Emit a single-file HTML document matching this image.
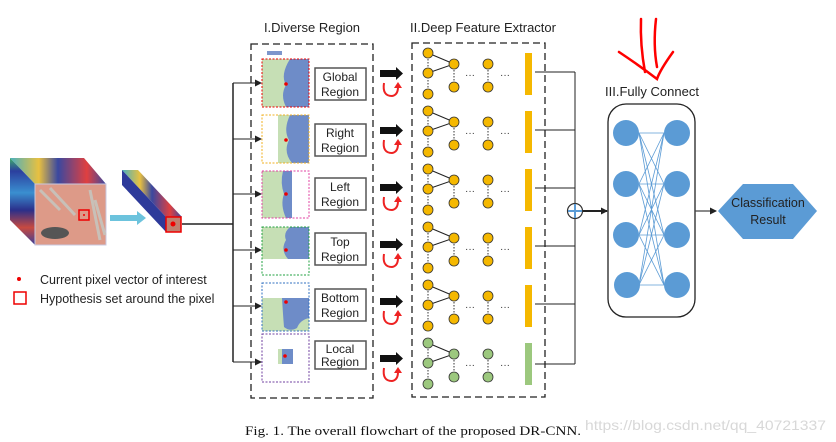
<!DOCTYPE html>
<html><head><meta charset="utf-8"><style>
body{margin:0;background:#fff;}
svg{display:block;}
text{font-family:"Liberation Sans",sans-serif;}
text.cap{font-family:"Liberation Serif",serif;}
</style></head><body>
<svg width="836" height="442" viewBox="0 0 836 442" xmlns="http://www.w3.org/2000/svg">
<defs>
<linearGradient id="side" x1="0" y1="0" x2="0" y2="1">
<stop offset="0" stop-color="#3fae6a"/><stop offset="0.15" stop-color="#2b3f9e"/><stop offset="0.4" stop-color="#3a8fd0"/><stop offset="0.6" stop-color="#2b2f8a"/><stop offset="0.8" stop-color="#c84a40"/><stop offset="1" stop-color="#3a3f9a"/>
</linearGradient>
<linearGradient id="top" x1="0" y1="0" x2="1" y2="0">
<stop offset="0" stop-color="#4ab0c0"/><stop offset="0.3" stop-color="#e8c040"/><stop offset="0.5" stop-color="#3a48a0"/><stop offset="0.8" stop-color="#e04040"/><stop offset="1" stop-color="#3a48a0"/>
</linearGradient>
<marker id="ah" markerUnits="userSpaceOnUse" markerWidth="7" markerHeight="7" refX="6" refY="3.5" orient="auto"><path d="M0,0 L7,3.5 L0,7 z" fill="#222"/></marker>
</defs>

<text x="312" y="32" font-size="13" text-anchor="middle" fill="#222">I.Diverse Region</text>
<text x="483" y="32" font-size="13" text-anchor="middle" fill="#222">II.Deep Feature Extractor</text>
<text x="652" y="96" font-size="13" text-anchor="middle" fill="#222">III.Fully Connect</text>

<g stroke="#f00" stroke-width="2.5" fill="none" stroke-linecap="round">
<path d="M641,19 Q640,45 645,72"/>
<path d="M656,19 Q653,45 657,67"/>
<path d="M619,52 Q640,66 657,79 Q660,70 673,52"/>
</g>

<polygon points="10,158 84,158 106,184 35,184" fill="url(#top)"/>
<polygon points="10,158 35,184 35,245 10,220" fill="url(#side)"/>
<rect x="35" y="184" width="71" height="61" fill="#dd9a88" stroke="#c8c8e0"/>
<path d="M40,190 L60,210 M50,188 L75,215 M90,190 L100,240 M95,200 L105,235" stroke="#c8c0b8" stroke-width="3"/>
<ellipse cx="55" cy="233" rx="14" ry="6" fill="#555"/>
<rect x="79" y="210" width="10" height="10" fill="none" stroke="#e00" stroke-width="1.5"/>
<circle cx="84" cy="215" r="1" fill="#e00"/>

<polygon points="110,215 137,215 137,211 146,218 137,225 137,221 110,221" fill="#6cc3dd"/>

<polygon points="122,170 138,170 182,217 166,217" fill="url(#top)"/>
<polygon points="122,170 166,217 166,232 122,185" fill="#2d3a9a"/>
<rect x="166" y="217" width="15" height="15" fill="#c08070" stroke="#e00" stroke-width="1.5"/>
<circle cx="173" cy="224" r="2.5" fill="#e00"/>

<circle cx="19" cy="279" r="2" fill="#e00"/>
<text x="40" y="284" font-size="12.5" fill="#222">Current pixel vector of interest</text>
<rect x="14" y="292" width="12" height="12" fill="none" stroke="#e00" stroke-width="1.5"/>
<text x="40" y="303" font-size="12.5" fill="#222">Hypothesis set around the pixel</text>

<path d="M182,224 H233 M233,83 V362" stroke="#222" stroke-width="1.5" fill="none"/>
<g stroke="#222" stroke-width="1" marker-end="url(#ah)">
<line x1="233" y1="83" x2="261" y2="83"/>
<line x1="233" y1="139" x2="261" y2="139"/>
<line x1="233" y1="194" x2="261" y2="194"/>
<line x1="233" y1="250" x2="261" y2="250"/>
<line x1="233" y1="306" x2="261" y2="306"/>
<line x1="233" y1="362" x2="261" y2="362"/>
</g>

<rect x="251" y="44" width="122" height="354" fill="none" stroke="#222" stroke-width="1.3" stroke-dasharray="7,4"/>
<rect x="412" y="43" width="133" height="354" fill="none" stroke="#222" stroke-width="1.3" stroke-dasharray="7,4"/>

<rect x="267" y="51" width="15" height="4" fill="#7d96cc"/>
<g>
<rect x="262" y="59" width="47" height="48" fill="#c6dfb5"/>
<path d="M290,59 H309 V107 H286 Q280,95 286,85 Q280,75 290,59 z" fill="#6e8cc8"/>
<rect x="262" y="59" width="47" height="48" fill="none" stroke="#e00" stroke-dasharray="2,1.5"/>
<circle cx="286" cy="84" r="1.8" fill="#e00"/>
</g>
<g>
<rect x="278" y="115" width="31" height="48" fill="#c6dfb5"/>
<path d="M290,115 H309 V163 H292 Q283,152 289,140 Q283,130 290,115 z" fill="#6e8cc8"/>
<rect x="262" y="115" width="47" height="48" fill="none" stroke="#f0b020" stroke-dasharray="2,1.5"/>
<circle cx="286" cy="140" r="1.8" fill="#e00"/>
</g>
<g>
<rect x="262" y="171" width="24" height="47" fill="#c6dfb5"/>
<path d="M283,171 H292 V218 H286 Q280,205 284,194 Q280,183 283,171 z" fill="#6e8cc8"/>
<rect x="262" y="171" width="47" height="47" fill="none" stroke="#e040a0" stroke-dasharray="2,1.5"/>
<circle cx="286" cy="194" r="1.8" fill="#e00"/>
</g>
<g>
<rect x="262" y="227" width="47" height="32" fill="#c6dfb5"/>
<path d="M290,227 H309 V259 H288 Q280,250 286,240 Q283,233 290,227 z" fill="#6e8cc8"/>
<rect x="262" y="227" width="47" height="48" fill="none" stroke="#20a040" stroke-dasharray="2,1.5"/>
<circle cx="286" cy="250" r="1.8" fill="#e00"/>
</g>
<g>
<rect x="262" y="298" width="47" height="33" fill="#c6dfb5"/>
<path d="M282,298 H309 V318 Q300,320 297,328 Q290,332 284,327 Q283,315 282,298 z" fill="#6e8cc8"/>
<rect x="262" y="283" width="47" height="48" fill="none" stroke="#3070c0" stroke-dasharray="2,1.5"/>
<circle cx="286" cy="302" r="1.8" fill="#e00"/>
</g>
<g>
<rect x="278" y="349" width="15" height="15" fill="#6e8cc8"/>
<rect x="278" y="349" width="4" height="15" fill="#c6dfb5"/>
<rect x="262" y="334" width="47" height="48" fill="none" stroke="#7040a0" stroke-dasharray="2,1.5"/>
<circle cx="285" cy="356" r="1.8" fill="#e00"/>
</g>

<g font-size="12" text-anchor="middle" fill="#222">
<rect x="315" y="68" width="51" height="32" fill="#fff" stroke="#555" stroke-width="1.5"/>
<text x="340" y="81">Global</text><text x="340" y="96">Region</text>
<rect x="315" y="124" width="51" height="32" fill="#fff" stroke="#555" stroke-width="1.5"/>
<text x="340" y="137">Right</text><text x="340" y="152">Region</text>
<rect x="315" y="178" width="51" height="32" fill="#fff" stroke="#555" stroke-width="1.5"/>
<text x="340" y="191">Left</text><text x="340" y="206">Region</text>
<rect x="315" y="233" width="51" height="32" fill="#fff" stroke="#555" stroke-width="1.5"/>
<text x="340" y="246">Top</text><text x="340" y="261">Region</text>
<rect x="315" y="289" width="51" height="32" fill="#fff" stroke="#555" stroke-width="1.5"/>
<text x="340" y="302">Bottom</text><text x="340" y="317">Region</text>
<rect x="315" y="341" width="51" height="28" fill="#fff" stroke="#555" stroke-width="1.5"/>
<text x="340" y="353">Local</text><text x="340" y="366">Region</text>
</g>

<g id="arr">
<polygon points="380,70 396,70 396,67 403,73.5 396,80 396,77 380,77" fill="#111"/>
<path d="M384,83 Q382,96 392,96 Q398,95 398,87" stroke="#e22" stroke-width="2" fill="none"/>
<polygon points="394,88 398,82 402,88" fill="#e22"/>
</g>
<use href="#arr" y="57"/>
<use href="#arr" y="114"/>
<use href="#arr" y="171"/>
<use href="#arr" y="228"/>
<use href="#arr" y="285"/>

<g id="row">
<g stroke="#333" stroke-width="1" stroke-dasharray="1.5,1.5">
<line x1="428" y1="53" x2="428" y2="94"/>
<line x1="454" y1="64" x2="454" y2="87"/>
<line x1="488" y1="64" x2="488" y2="87"/>
</g>
<path d="M428,53 L454,64 L428,73" stroke="#222" stroke-width="1" fill="none"/>
<g fill="#f5b800" stroke="#333" stroke-width="0.8">
<circle cx="428" cy="53" r="5"/><circle cx="428" cy="73" r="5"/><circle cx="428" cy="94" r="5"/>
<circle cx="454" cy="64" r="5"/><circle cx="454" cy="87" r="5"/>
<circle cx="488" cy="64" r="5"/><circle cx="488" cy="87" r="5"/>
</g>
<text x="470" y="78" font-size="10" text-anchor="middle" fill="#333">···</text>
<text x="505" y="78" font-size="10" text-anchor="middle" fill="#333">···</text>
<rect x="525" y="53" width="7" height="42" fill="#f5b800"/>
<line x1="535" y1="72" x2="575" y2="72" stroke="#222" stroke-width="1"/>
</g>
<use href="#row" y="58"/>
<use href="#row" y="116"/>
<use href="#row" y="174"/>
<use href="#row" y="232"/>
<g transform="translate(0,290)">
<g stroke="#333" stroke-width="1" stroke-dasharray="1.5,1.5">
<line x1="428" y1="53" x2="428" y2="94"/>
<line x1="454" y1="64" x2="454" y2="87"/>
<line x1="488" y1="64" x2="488" y2="87"/>
</g>
<path d="M428,53 L454,64 L428,73" stroke="#222" stroke-width="1" fill="none"/>
<g fill="#9cc87e" stroke="#333" stroke-width="0.8">
<circle cx="428" cy="53" r="5"/><circle cx="428" cy="73" r="5"/><circle cx="428" cy="94" r="5"/>
<circle cx="454" cy="64" r="5"/><circle cx="454" cy="87" r="5"/>
<circle cx="488" cy="64" r="5"/><circle cx="488" cy="87" r="5"/>
</g>
<text x="470" y="78" font-size="10" text-anchor="middle" fill="#333">···</text>
<text x="505" y="78" font-size="10" text-anchor="middle" fill="#333">···</text>
<rect x="525" y="53" width="7" height="42" fill="#9cc87e"/>
<line x1="535" y1="74" x2="575" y2="74" stroke="#222" stroke-width="1"/>
</g>
<line x1="575" y1="72" x2="575" y2="364" stroke="#222" stroke-width="1"/>

<circle cx="575" cy="211" r="7.5" fill="#fff" stroke="#333" stroke-width="1.2"/>
<path d="M568,211 H582 M575,204 V218" stroke="#5b9bd5" stroke-width="2"/>
<line x1="583" y1="211" x2="607" y2="211" stroke="#222" stroke-width="2" marker-end="url(#ah)"/>

<rect x="608" y="104" width="87" height="213" rx="18" fill="#fff" stroke="#222" stroke-width="1.3"/>
<g stroke="#5b9bd5" stroke-width="0.8">
<line x1="639" y1="133" x2="664" y2="133"/><line x1="639" y1="133" x2="664" y2="184"/><line x1="639" y1="133" x2="664" y2="235"/><line x1="639" y1="133" x2="664" y2="285"/>
<line x1="639" y1="184" x2="664" y2="133"/><line x1="639" y1="184" x2="664" y2="184"/><line x1="639" y1="184" x2="664" y2="235"/><line x1="639" y1="184" x2="664" y2="285"/>
<line x1="639" y1="235" x2="664" y2="133"/><line x1="639" y1="235" x2="664" y2="184"/><line x1="639" y1="235" x2="664" y2="235"/><line x1="639" y1="235" x2="664" y2="285"/>
<line x1="639" y1="285" x2="664" y2="133"/><line x1="639" y1="285" x2="664" y2="184"/><line x1="639" y1="285" x2="664" y2="235"/><line x1="639" y1="285" x2="664" y2="285"/>
</g>
<g fill="#5b9bd5">
<circle cx="626" cy="133" r="13"/><circle cx="626" cy="184" r="13"/><circle cx="626" cy="235" r="13"/><circle cx="627" cy="285" r="13"/>
<circle cx="677" cy="133" r="13"/><circle cx="677" cy="184" r="13"/><circle cx="677" cy="235" r="13"/><circle cx="677" cy="285" r="13"/>
</g>
<line x1="695" y1="211" x2="716" y2="211" stroke="#444" stroke-width="1.2" marker-end="url(#ah)"/>

<polygon points="718,211 743,184 793,184 817,211 793,239 743,239" fill="#5b9bd5"/>
<text x="768" y="207" font-size="12.5" text-anchor="middle" fill="#222">Classification</text>
<text x="768" y="224" font-size="12.5" text-anchor="middle" fill="#222">Result</text>

<text class="cap" x="245" y="435" font-size="13" fill="#111" textLength="336" lengthAdjust="spacingAndGlyphs">Fig. 1.   The overall flowchart of the proposed DR-CNN.</text>
<text x="585" y="430" font-size="14" fill="#d8d8d8" textLength="241" lengthAdjust="spacingAndGlyphs">https://blog.csdn.net/qq_40721337</text>
</svg>
</body></html>
